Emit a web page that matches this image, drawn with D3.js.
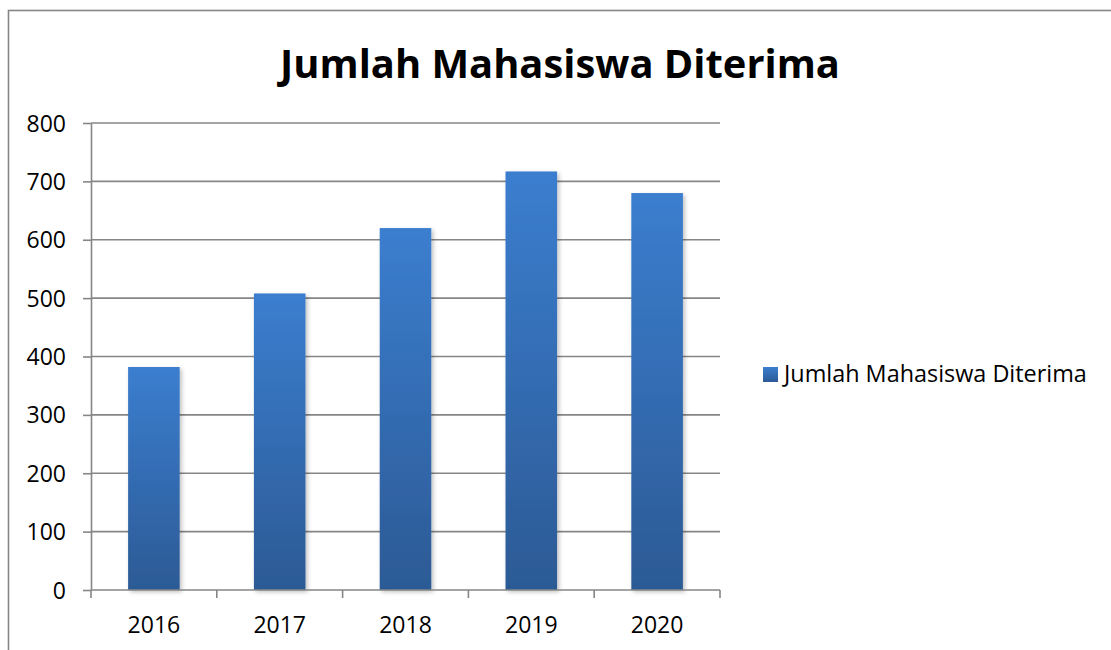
<!DOCTYPE html>
<meta charset="utf-8">
<style>
    body { margin: 0; background: #fff; }
    text { font-family: "Open Sans", sans-serif; fill: #000; }
    .grid line { stroke: #868686; stroke-width: 1.6; }
    .axis path, .axis line { stroke: #868686; stroke-width: 1.6; }
</style>
<script src="https://d3js.org/d3.v7.min.js"></script>
<svg width="1111" height="650"></svg>
<script>
    const years = ["2016", "2017", "2018", "2019", "2020"];
    const diterima = [382, 508, 620, 717, 680];
    const yTicks = [0, 100, 200, 300, 400, 500, 600, 700, 800];
    const title = "Jumlah Mahasiswa Diterima";
    const seriesName = "Jumlah Mahasiswa Diterima";

    let svg = d3.select("svg");
    let margin = {left: 91, right: 391, top: 123, bottom: 60};
    let width = 1111;
    let height = 650;

    let x = d3.scaleBand().domain(years).range([margin.left, width - margin.right]).paddingInner(0.59).paddingOuter(0.295);
    let y = d3.scaleLinear().domain([0, 800]).range([height - margin.bottom, margin.top]);

    let defs = svg.append("defs");
    let grad = defs.append("linearGradient").attr("id", "barGrad")
        .attr("x1", 0).attr("y1", 0).attr("x2", 0).attr("y2", 1);
    grad.append("stop").attr("offset", "0%").attr("stop-color", "#3b7ecf");
    grad.append("stop").attr("offset", "100%").attr("stop-color", "#2c5a95");
    let shadow = defs.append("filter").attr("id", "shadow")
        .attr("x", "-20%").attr("y", "-20%").attr("width", "150%").attr("height", "150%");
    shadow.append("feDropShadow").attr("dx", 2).attr("dy", 2).attr("stdDeviation", 2)
        .attr("flood-color", "#000").attr("flood-opacity", 0.25);

    // outer chart border (right and bottom edges fall off the picture)
    svg.append("rect")
        .attr("x", 8.5).attr("y", 10.5).attr("width", 1200).attr("height", 700)
        .attr("fill", "none").attr("stroke", "#868686").attr("stroke-width", 1.6);

    // gridlines
    svg.append("g").attr("class", "grid")
        .selectAll("line").data(yTicks.filter(d => d > 0)).enter().append("line")
        .attr("x1", margin.left).attr("x2", width - margin.right)
        .attr("y1", d => y(d)).attr("y2", d => y(d));

    // bars
    svg.append("g").selectAll("rect").data(diterima).enter().append("rect")
        .attr("x", (d, i) => x(years[i]))
        .attr("y", d => y(d))
        .attr("width", x.bandwidth())
        .attr("height", d => y(0) - y(d))
        .attr("fill", "url(#barGrad)")
        .attr("filter", "url(#shadow)");

    // y axis
    let yAxis = svg.append("g").attr("class", "axis")
        .attr("transform", "translate(" + margin.left + ",0)")
        .call(d3.axisLeft(y).tickValues(yTicks).tickSize(8).tickSizeOuter(0).tickPadding(17));
    yAxis.selectAll("text").style("font-size", "23px").attr("dy", "0.35em");

    // x axis with ticks on category boundaries
    let xAxisG = svg.append("g").attr("class", "axis")
        .attr("transform", "translate(0," + y(0) + ")");
    xAxisG.append("line").attr("x1", margin.left).attr("x2", width - margin.right);
    let step = x.step();
    let bounds = d3.range(years.length + 1).map(i => margin.left + i * step);
    xAxisG.selectAll(".tk").data(bounds).enter().append("line")
        .attr("x1", d => d).attr("x2", d => d).attr("y1", 0).attr("y2", 8);
    xAxisG.selectAll(".lbl").data(years).enter().append("text")
        .attr("x", d => x(d) + x.bandwidth() / 2)
        .attr("y", 43)
        .attr("text-anchor", "middle")
        .style("font-size", "23px")
        .text(d => d);

    // title
    let t = svg.append("text")
        .attr("x", 560).attr("y", 78)
        .attr("text-anchor", "middle")
        .style("font-weight", "bold")
        .style("font-size", "40px")
        .text(title);
    let tw = t.node().getComputedTextLength();
    t.style("font-size", (40 * 560 / tw) + "px");

    // legend
    let legend = svg.append("g").attr("transform", "translate(763,367)");
    legend.append("rect").attr("width", 15).attr("height", 15).attr("fill", "url(#barGrad)");
    let lt = legend.append("text").attr("x", 21).attr("y", 15)
        .style("font-size", "22px").text(seriesName);
    let lw = lt.node().getComputedTextLength();
    lt.style("font-size", (22 * 303 / lw) + "px");
</script>
